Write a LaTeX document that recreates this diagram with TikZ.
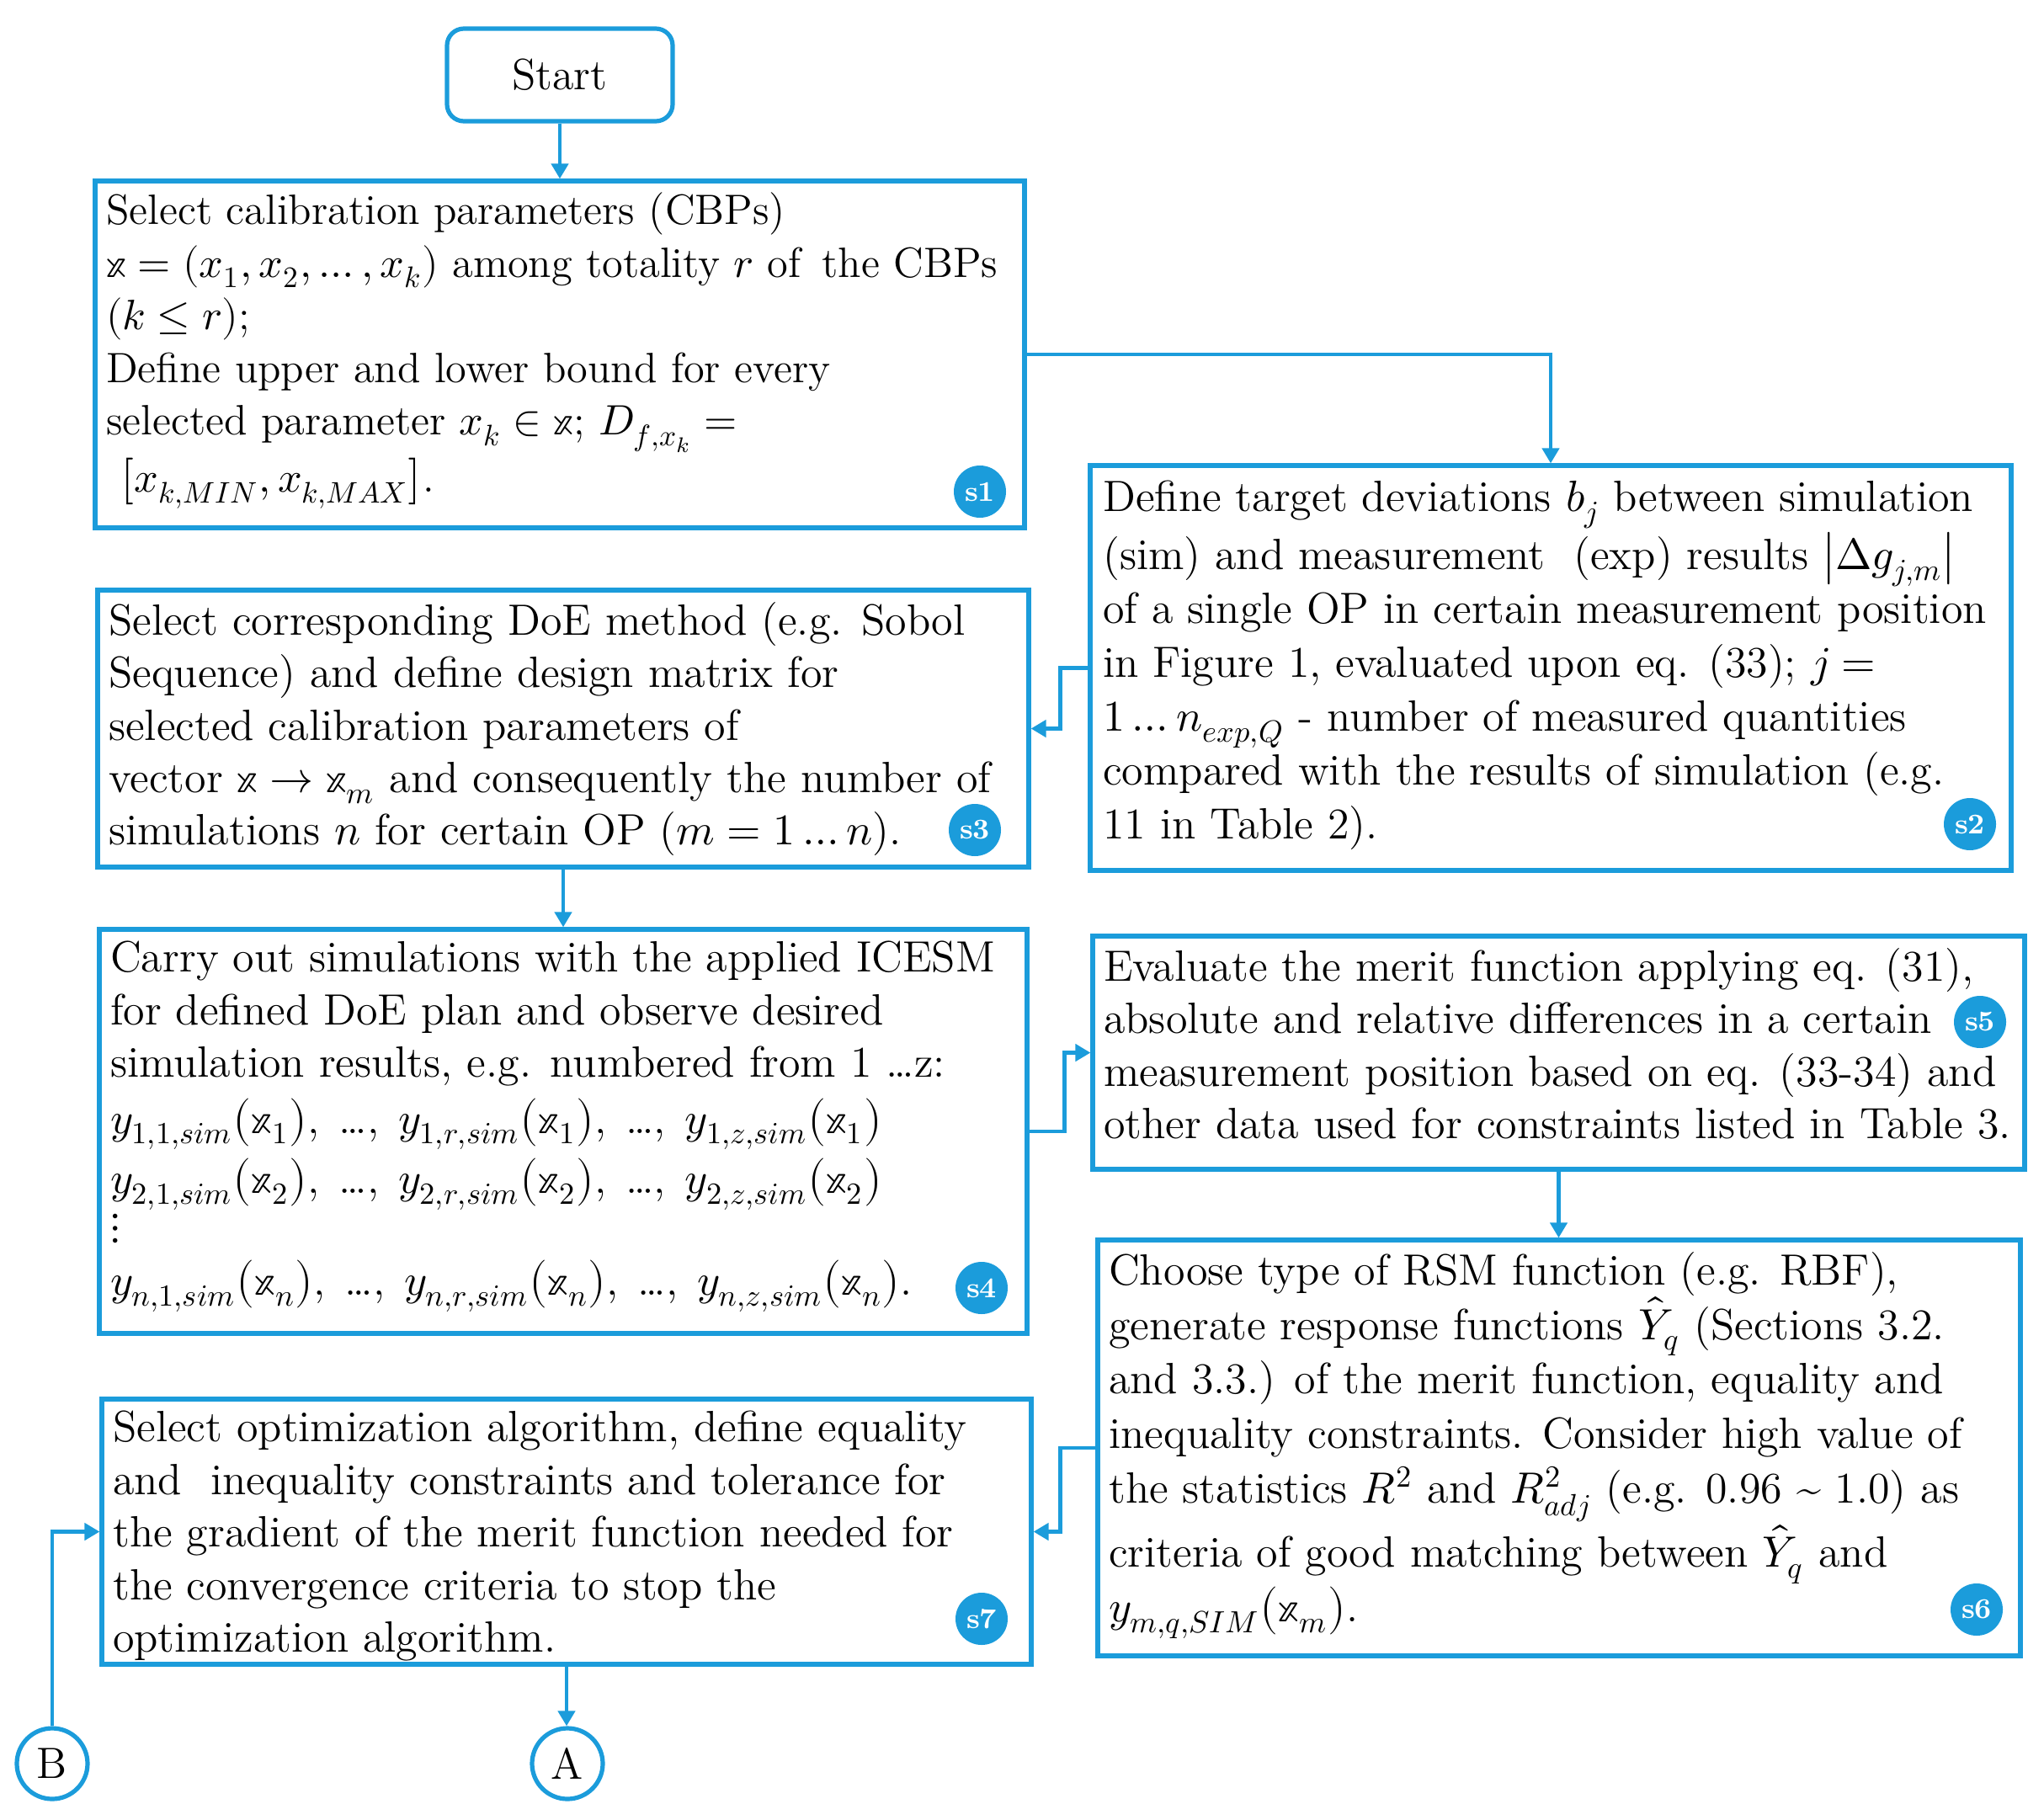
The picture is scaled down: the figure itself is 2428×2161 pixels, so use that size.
\documentclass[tikz,border=0pt]{standalone}
\usepackage{unicode-math}
\setmathfont{Latin Modern Math}
\usetikzlibrary{arrows.meta,calc}
\definecolor{fblue}{RGB}{27,156,219}
\newcommand{\bx}{\mathbb{x}}
\newcommand{\sdots}{\hspace{1.5pt} \dots,\hspace{1.5pt} }
\tikzset{
  x=0.25pt,y=-0.25pt,
  box/.style={draw=fblue,line width=1.3pt,fill=white,inner sep=0pt},
  txt/.style={anchor=north west,inner sep=0pt,align=left,font=\fontsize{13}{15.6}\selectfont},
  badge/.style={circle,fill=fblue,text=white,inner sep=0pt,minimum size=15.5pt,font=\bfseries\fontsize{8.5}{8.5}\selectfont},
  conn/.style={circle,draw=fblue,line width=1.3pt,fill=white,inner sep=0pt,minimum size=21pt,font=\fontsize{13}{13}\selectfont},
  arr/.style={draw=fblue,line width=1.1pt,-{Triangle[length=4.5pt,width=5pt]}},
}
\begin{document}
\begin{tikzpicture}
\useasboundingbox (0,0) rectangle (2428,2161);
% boxes
\node[box,rounded corners=5pt,minimum width=67pt,minimum height=27.5pt,font=\fontsize{13}{13}\selectfont] (start) at (665,89) {Start};
\node[box,minimum width=276pt,minimum height=103pt] (s1) at (665,421) {};
\node[box,minimum width=273.5pt,minimum height=120.25pt] (s2) at (1842,793.5) {};
\node[box,minimum width=276.5pt,minimum height=82.25pt] (s3) at (669,865.5) {};
\node[box,minimum width=275.5pt,minimum height=120pt] (s4) at (669,1344) {};
\node[box,minimum width=276.75pt,minimum height=69.25pt] (s5) at (1851.5,1250.5) {};
\node[box,minimum width=274pt,minimum height=123.5pt] (s6) at (1852,1720) {};
\node[box,minimum width=276pt,minimum height=78.75pt] (s7) at (673,1819.5) {};
% texts
\node[txt,font=\fontsize{12.6}{15.6}\selectfont] (t1) at ($(s1.north west)+(15,16)$) {Select calibration parameters (CBPs)\\
$\bx=(x_1,x_2,\dots,x_k)$ among totality $r$ of\hspace{0.5em}the CBPs\\
$(k\le r)$;\\
Define upper and lower bound for every\\
selected parameter $x_k\in\bx$; $D_{f,x_k}=$\\
\ $\bigl[x_{k,MIN},x_{k,MAX}\bigr]$.};
\node[txt,font=\fontsize{13}{16}\selectfont] (t2) at ($(s2.north west)+(17,20)$) {Define target deviations $b_j$ between simulation\\
(sim) and measurement\ \ (exp) results $\left|\Delta g_{j,m}\right|$\\
of a single OP in certain measurement position\\
in Figure 1, evaluated upon eq. (33); $j=$\\
$1\dots n_{exp,Q}$ - number of measured quantities\\
compared with the results of simulation (e.g.\\
11 in Table 2).};
\node[txt] (t3) at ($(s3.north west)+(15,16)$) {Select corresponding DoE method (e.g. Sobol\\
Sequence) and define design matrix for\\
selected calibration parameters of\\
vector $\bx\to\bx_m$ and consequently the number of\\
simulations $n$ for certain OP ($m=1\dots n$).};
\node[txt] (t4) at ($(s4.north west)+(15,16)$) {Carry out simulations with the applied ICESM\\
for defined DoE plan and observe desired\\
simulation results, e.g. numbered from 1 \dots z:\\[1pt]
$y_{1,1,sim}\bigl(\bx_1\bigr)$,\sdots$y_{1,r,sim}\bigl(\bx_1\bigr)$,\sdots$y_{1,z,sim}\bigl(\bx_1\bigr)$\\[1pt]
$y_{2,1,sim}\bigl(\bx_2\bigr)$,\sdots$y_{2,r,sim}\bigl(\bx_2\bigr)$,\sdots$y_{2,z,sim}\bigl(\bx_2\bigr)$\\[-2pt]
$\vdots$\\[1pt]
$y_{n,1,sim}\bigl(\bx_n\bigr)$,\sdots$y_{n,r,sim}\bigl(\bx_n\bigr)$,\sdots$y_{n,z,sim}\bigl(\bx_n\bigr)$.};
\node[txt] (t5) at ($(s5.north west)+(15,16)$) {Evaluate the merit function applying eq. (31),\\
absolute and relative differences in a certain\\
measurement position based on eq. (33-34) and\\
other data used for constraints listed in Table 3.};
\node[txt,font=\fontsize{13}{16.2}\selectfont] (t6) at ($(s6.north west)+(15,16)$) {Choose type of RSM function (e.g. RBF),\\
generate response functions $\hat{Y}_q$ (Sections 3.2.\\
and 3.3.) of the merit function, equality and\\
inequality constraints. Consider high value of\\
the statistics $R^2$ and $R^2_{adj}$ (e.g. 0.96 \textasciitilde{} 1.0) as\\
criteria of good matching between $\hat{Y}_q$ and\\
$y_{m,q,SIM}\bigl(\bx_m\bigr)$.};
\node[txt] (t7) at ($(s7.north west)+(15,16)$) {Select optimization algorithm, define equality\\
and\ \ inequality constraints and tolerance for\\
the gradient of the merit function needed for\\
the convergence criteria to stop the\\
optimization algorithm.};
% badges
\node[badge] (b1) at (1164,584) {s1};
\node[badge] (b2) at (2340,979) {s2};
\node[badge] (b3) at (1158,986) {s3};
\node[badge] (b4) at (1166,1530) {s4};
\node[badge] (b5) at (2352,1214) {s5};
\node[badge] (b6) at (2348,1912) {s6};
\node[badge] (b7) at (1166,1923) {s7};
% connectors A,B
\node[conn] (A) at (674,2095) {A};
\node[conn] (B) at (62,2095) {B};
% arrows
\draw[arr] (start.south) -- (start.south |- s1.north);
\draw[arr] (s1.east) -| (s2.north);
\draw[arr] (s2.west) -- ++(-33,0) |- (s3.east);
\draw[arr] (s3.south) -- (s3.south |- s4.north);
\draw[arr] (s4.east) -- ++(42,0) |- (s5.west);
\draw[arr] (s5.south) -- (s5.south |- s6.north);
\draw[arr] (s6.west) -- ++(-42,0) |- (s7.east);
\draw[arr] (s7.south) -- (s7.south |- A.north);
\draw[arr] (B.north) |- (s7.west);
\end{tikzpicture}
\end{document}
